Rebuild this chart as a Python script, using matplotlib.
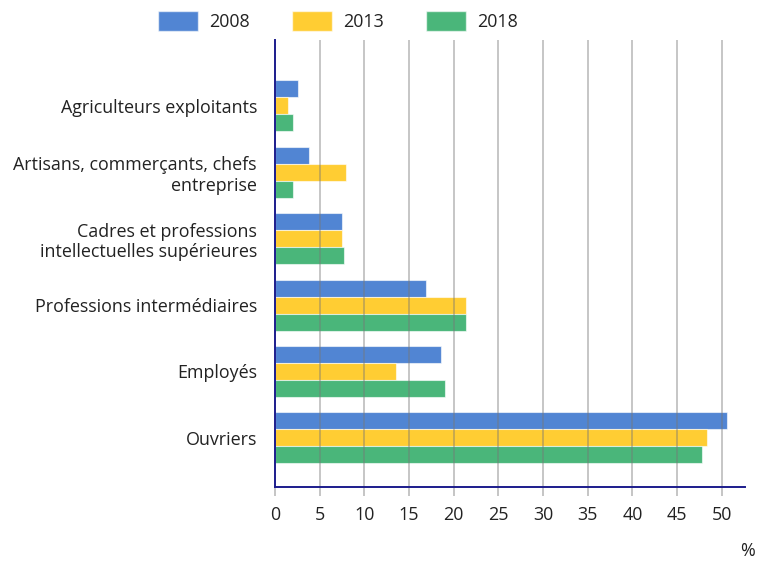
import matplotlib
matplotlib.use("Agg")
import matplotlib.pyplot as plt
import numpy as np
from matplotlib.patches import Patch

categories = ["Agriculteurs exploitants",
              "Artisans, commerçants, chefs\nentreprise",
              "Cadres et professions\nintellectuelles supérieures",
              "Professions intermédiaires",
              "Employés",
              "Ouvriers"]
series_names = ["2008", "2013", "2018"]
v2008 = [2.6, 3.8, 7.5, 16.9, 18.6, 50.6]
v2013 = [1.4, 7.9, 7.5, 21.4, 13.5, 48.4]
v2018 = [2.0, 2.0, 7.7, 21.4, 19.0, 47.8]
xticks = [0, 5, 10, 15, 20, 25, 30, 35, 40, 45, 50]

colors = ["#5185D3", "#FFCD33", "#4AB67A"]

plt.rcParams['font.family'] = ['Open Sans', 'DejaVu Sans']
fs = 12.9
txtc = "#222222"

fig = plt.figure(figsize=(7.57, 5.63), dpi=100)
ax = fig.add_axes([275/757, 1-487/563, (745-275)/757, (487-40)/563])

y = np.arange(len(categories))
h = 0.256
for k, (vals, c) in enumerate(zip([v2008, v2013, v2018], colors)):
    ax.barh(y + (k-1)*h, vals, height=h, color=c, edgecolor=(1, 1, 1, 0.6),
            linewidth=0.8, zorder=2)

ax.set_ylim(5.74, -0.99)
ax.set_xlim(0, 52.6)
ax.set_xticks(xticks)
ax.set_xticklabels([str(t) for t in xticks], fontsize=fs, color=txtc)
ax.set_yticks(y)
ax.set_yticklabels(categories, fontsize=fs, color=txtc)
ax.tick_params(axis='y', length=0, pad=13)
ax.tick_params(axis='x', length=6.5, width=1.2, color='#bbbbbb', pad=7.5)

for t in xticks[1:]:
    ax.axvline(t, color='#777777', alpha=0.45, lw=1.3, zorder=3)

for s in ['top', 'right']:
    ax.spines[s].set_visible(False)
for s in ['left', 'bottom']:
    ax.spines[s].set_color('#1c1c8c')
    ax.spines[s].set_linewidth(1.4)
    ax.spines[s].set_zorder(4)

handles = [Patch(facecolor=c, edgecolor=(1, 1, 1, 0.6)) for c in colors]
fpx = fs * 100 / 72
fig.legend(handles, series_names, ncol=3, frameon=False, loc='upper left',
           bbox_to_anchor=(144/757, 1 + 3/563), fontsize=fs,
           handlelength=40/fpx, handleheight=23/fpx, handletextpad=11/fpx,
           columnspacing=42/fpx, labelcolor=txtc, borderpad=0.3)

fig.text(740/757, 1-551/563, "%", fontsize=fs, color=txtc, ha='left', va='center')

fig.savefig("out.png", dpi=100)
